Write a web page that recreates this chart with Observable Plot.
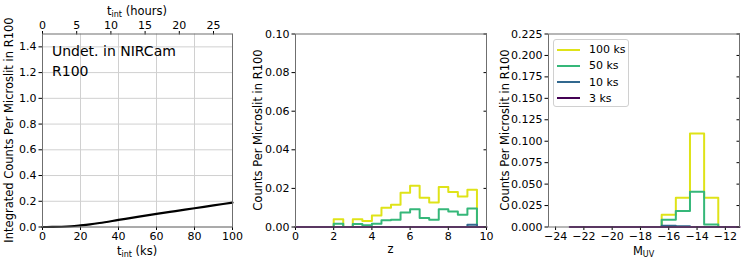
<!DOCTYPE html>
<html>
<head>
<meta charset="utf-8">
<script src="https://cdn.jsdelivr.net/npm/d3@7"></script>
<script src="https://cdn.jsdelivr.net/npm/@observablehq/plot@0.6"></script>
<style>
  body { margin: 0; background: #fff; }
  #fig { position: relative; width: 747px; height: 264px; font-family: "DejaVu Sans", sans-serif; }
  #fig svg { position: absolute; top: 0; overflow: visible; }
  #fig svg text { font-family: "DejaVu Sans", sans-serif; }
  .legend { position: absolute; left: 553px; top: 39px; width: 76px; height: 68px; border: 1px solid #d0d0d0; border-radius: 3px; background: rgba(255,255,255,0.85); box-sizing: border-box; font-size: 11px; color: #000; }
  .legend .row { position: absolute; left: 0; height: 16px; display: flex; align-items: center; }
  .legend .sw { width: 23px; height: 2px; margin-left: 3px; margin-right: 9px; }
</style>
</head>
<body>
<div id="fig"></div>
<script>
// ---------- data ----------
const seriesNames = ["100 ks", "50 ks", "10 ks", "3 ks"];
const seriesColors = ["#dfe318", "#35b779", "#31688e", "#440154"];

// panel 1: integrated counts vs integration time (ks)
const tintKs = [0, 5, 10, 15, 20, 25, 30, 40, 50, 60, 70, 80, 90, 100];
const integratedCounts = [0, 0.0005, 0.002, 0.006, 0.013, 0.021, 0.031, 0.055, 0.079, 0.102, 0.124, 0.146, 0.168, 0.19];
const hourTicks = [0, 5, 10, 15, 20, 25];
const ksPerHour = 3.6;

// panel 2: counts per redshift bin
const zEdges = [2, 2.5, 3, 3.5, 4, 4.5, 5, 5.5, 6, 6.5, 7, 7.5, 8, 8.5, 9, 9.5];
const z100 = [0.004, 0, 0.004, 0.0031, 0.006, 0.010, 0.0115, 0.0177, 0.0214, 0.0151, 0.0127, 0.0207, 0.0181, 0.0158, 0.0193];
const z50 = [0.0017, 0, 0.0016, 0.0009, 0.0017, 0.0035, 0.0038, 0.0075, 0.0092, 0.0047, 0.0037, 0.0092, 0.008, 0.0064, 0.0096];
const z10 = [0, 0, 0, 0, 0, 0, 0, 0, 0, 0, 0, 0, 0, 0, 0.0012];
const z3Edges = [0, 10];
const z3 = [0];

// panel 3: counts per M_UV bin
const mEdges = [-16.5, -15.5, -14.5, -13.5, -12.5];
const m100 = [0.0144, 0.034, 0.109, 0.034];
const m50 = [0.0085, 0.0186, 0.041, 0.003];
const m10 = [0.0015, 0.001, 0, 0];
const m3Edges = [-23, -11];
const m3 = [0];

// tick labels
const p1Xticks = [0, 20, 40, 60, 80, 100];
const p1Yticks = [0, 0.2, 0.4, 0.6, 0.8, 1.0, 1.2, 1.4];
const p2Xticks = [0, 2, 4, 6, 8, 10];
const p2Yticks = [0, 0.02, 0.04, 0.06, 0.08, 0.10];
const p3Xticks = [-24, -22, -20, -18, -16, -14, -12];
const p3Yticks = [0, 0.025, 0.05, 0.075, 0.1, 0.125, 0.15, 0.175, 0.2, 0.225];

// ---------- helpers ----------
function steps(edges, counts) {
  const pts = [{x: edges[0], y: 0}];
  counts.forEach((c, i) => { pts.push({x: edges[i], y: c}); pts.push({x: edges[i + 1], y: c}); });
  pts.push({x: edges[edges.length - 1], y: 0});
  return pts;
}
const minus = s => String(s).replace("-", "\u2212");
const style = {fontSize: "11px", fontFamily: "DejaVu Sans", color: "#000", background: "transparent", overflow: "visible"};
const frameColor = "#6f6f6f";
const fig = document.getElementById("fig");

function place(svg, left) { svg.style.left = left + "px"; fig.appendChild(svg); return d3.select(svg); }

function subLabel(sel, x, y, main, sub, rest, rotate) {
  const t = sel.append("text")
    .attr("text-anchor", "middle")
    .attr("font-size", "11.5px")
    .attr("font-family", "DejaVu Sans")
    .attr("fill", "#000")
    .attr("transform", `translate(${x},${y})` + (rotate ? " rotate(-90)" : ""));
  t.append("tspan").text(main);
  if (sub) {
    t.append("tspan").attr("font-size", "8px").attr("dy", "2").text(sub);
    t.append("tspan").attr("dy", "-2").text(rest);
  }
  return t;
}

// ---------- panel 1 ----------
{
  const W = 247, mL = 42, mR = 15, mT = 33.5, mB = 37.5;
  const svg = Plot.plot({
    width: W, height: 264, marginLeft: mL, marginRight: mR, marginTop: mT, marginBottom: mB,
    style,
    x: {domain: [0, 100]},
    y: {domain: [0, 1.5]},
    marks: [
      Plot.gridX(p1Xticks, {stroke: "#d0d0d0", strokeOpacity: 1}),
      Plot.gridY(p1Yticks, {stroke: "#d0d0d0", strokeOpacity: 1}),
      Plot.line(tintKs.map((t, i) => ({t, c: integratedCounts[i]})), {x: "t", y: "c", stroke: "#000", strokeWidth: 2.2, curve: "monotone-x"}),
      Plot.axisX({ticks: p1Xticks, tickSize: 3.5, tickPadding: 1.5, label: null}),
      Plot.axisX({anchor: "top", ticks: hourTicks.map(h => h * ksPerHour), tickFormat: d => Math.round(d / ksPerHour), tickSize: 3.5, tickPadding: 1.5, label: null}),
      Plot.axisY({ticks: p1Yticks, tickFormat: d => d.toFixed(1), tickSize: 3.5, tickPadding: 2.5, label: null}),
      Plot.frame({stroke: frameColor}),
      Plot.text(["Undet. in NIRCam\nR100"], {frameAnchor: "top-left", textAnchor: "start", lineAnchor: "top", dx: 9.5, dy: 8, fontSize: 14, lineHeight: 1.4, fill: "#000"})
    ]
  });
  const s = place(svg, 0);
  const cx = mL + (W - mL - mR) / 2;
  subLabel(s, cx, 254.5, "t", "int", " (ks)");
  subLabel(s, cx, 15, "t", "int", " (hours)");
  subLabel(s, 13, mT + (264 - mT - mB) / 2, "Integrated Counts Per Microslit in R100", null, null, true);
}

// ---------- panel 2 ----------
{
  const W = 250, mL = 45, mR = 14, mT = 33.5, mB = 37.5;
  const zSeries = [[zEdges, z100], [zEdges, z50], [zEdges, z10], [z3Edges, z3]];
  const svg = Plot.plot({
    width: W, height: 264, marginLeft: mL, marginRight: mR, marginTop: mT, marginBottom: mB,
    style,
    x: {domain: [0, 10]},
    y: {domain: [0, 0.1]},
    marks: [
      ...zSeries.map(([e, c], i) => Plot.line(steps(e, c), {x: "x", y: "y", stroke: seriesColors[i], strokeWidth: 2})),
      Plot.axisX({ticks: p2Xticks, tickSize: 3.5, tickPadding: 1.5, label: null}),
      Plot.axisY({ticks: p2Yticks, tickFormat: d => d.toFixed(2), tickSize: 3.5, tickPadding: 2.5, label: null}),
      Plot.axisY({anchor: "right", ticks: p2Yticks, tickFormat: () => "", tickSize: -3.5, label: null}),
      Plot.frame({stroke: frameColor})
    ]
  });
  const s = place(svg, 250);
  subLabel(s, mL + (W - mL - mR) / 2, 253, "z");
  subLabel(s, 12, mT + (264 - mT - mB) / 2, "Counts Per Microslit in R100", null, null, true);
}

// ---------- panel 3 ----------
{
  const W = 250, mL = 51, mR = 8, mT = 33.5, mB = 37.5;
  const mSeries = [[mEdges, m100], [mEdges, m50], [mEdges, m10], [m3Edges, m3]];
  const svg = Plot.plot({
    width: W, height: 264, marginLeft: mL, marginRight: mR, marginTop: mT, marginBottom: mB,
    style,
    x: {domain: [-24.5, -11]},
    y: {domain: [0, 0.225]},
    marks: [
      ...mSeries.map(([e, c], i) => Plot.line(steps(e, c), {x: "x", y: "y", stroke: seriesColors[i], strokeWidth: 2})),
      Plot.axisX({ticks: p3Xticks, tickFormat: minus, tickSize: 3.5, tickPadding: 1.5, label: null}),
      Plot.axisY({ticks: p3Yticks, tickFormat: d => d.toFixed(3), tickSize: 3.5, tickPadding: 2.5, label: null}),
      Plot.axisY({anchor: "right", ticks: p3Yticks, tickFormat: () => "", tickSize: -3.5, label: null}),
      Plot.frame({stroke: frameColor})
    ]
  });
  const s = place(svg, 497);
  subLabel(s, mL + (W - mL - mR) / 2, 254.5, "M", "UV", "");
  subLabel(s, 12, mT + (264 - mT - mB) / 2, "Counts Per Microslit in R100", null, null, true);
}

// ---------- legend ----------
{
  const lg = document.createElement("div");
  lg.className = "legend";
  seriesNames.forEach((name, i) => {
    const row = document.createElement("div");
    row.className = "row";
    row.style.top = (1.5 + i * 16.3) + "px";
    const sw = document.createElement("span");
    sw.className = "sw";
    sw.style.background = seriesColors[i];
    const tx = document.createElement("span");
    tx.textContent = name;
    row.appendChild(sw); row.appendChild(tx);
    lg.appendChild(row);
  });
  fig.appendChild(lg);
}
</script>
</body>
</html>
